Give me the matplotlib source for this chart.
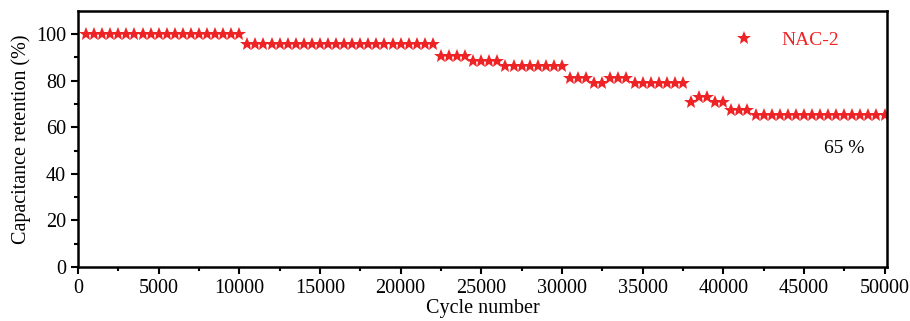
import matplotlib
matplotlib.use("Agg")
import matplotlib.pyplot as plt
import numpy as np

plt.rcParams['font.family'] = ['Liberation Serif', 'DejaVu Serif']
plt.rcParams['font.size'] = 14.5

# 사이클 구간별 용량 유지율 (500 사이클 간격)
seg_ends = [10000, 22000, 24000, 26000, 30000, 31500, 32500, 34000, 37500,
            38000, 39000, 40000, 41500, 50000]
seg_vals = [100, 96, 90.5, 88.5, 86.5, 81, 79, 81, 79,
            71, 73, 71, 67.5, 65.3]

cycles = np.arange(500, 50001, 500)
retention = []
for c in cycles:
    for end, v in zip(seg_ends, seg_vals):
        if c <= end:
            retention.append(v)
            break

red = '#EE2326'

fig = plt.figure(figsize=(9.1, 3.21), dpi=100)
ax = fig.add_axes([0.0857, 0.168, 0.889, 0.798])

ax.plot(cycles, retention, linestyle='none', marker='*', markersize=10.5,
        color=red, markeredgewidth=0, label='NAC-2')

ax.set_xlim(0, 50150)
ax.set_ylim(0, 110)
ax.set_xticks(np.arange(0, 50001, 5000))
ax.set_xticks(np.arange(0, 50001, 2500), minor=True)
ax.set_yticks(np.arange(0, 101, 20))
ax.set_yticks(np.arange(0, 101, 10), minor=True)
ax.tick_params(which='both', direction='out', width=1.5, top=False, right=False)
ax.tick_params(which='major', length=5)
ax.tick_params(which='minor', length=3)
for s in ax.spines.values():
    s.set_linewidth(1.8)

ax.set_xlabel('Cycle number', labelpad=1)
ax.set_ylabel('Capacitance retention (%)', labelpad=4)

ax.text(47500, 51, '65 %', ha='center', va='center', fontsize=14)

ax.legend(loc='center right', bbox_to_anchor=(0.962, 0.887), frameon=False,
          labelcolor=red, handletextpad=0.9, fontsize=14, markerscale=1.0)

fig.savefig('out.png', dpi=100)
